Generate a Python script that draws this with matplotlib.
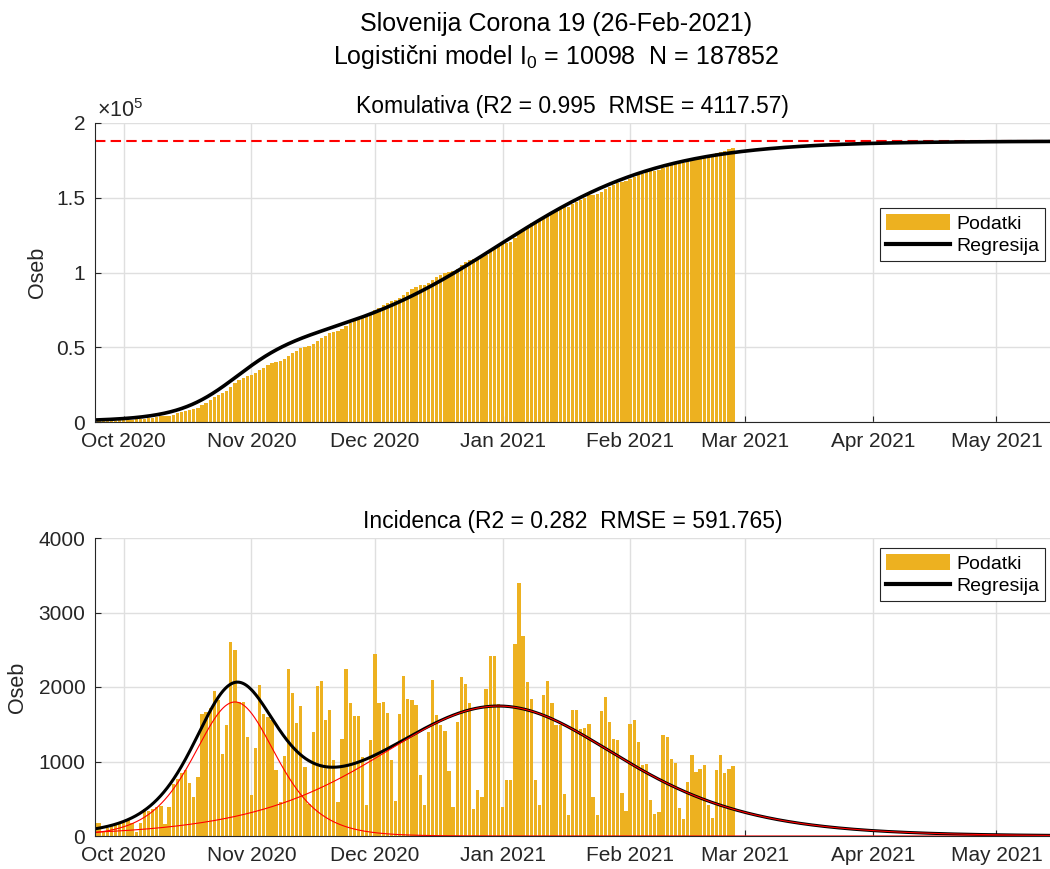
import numpy as np
import matplotlib
matplotlib.use("Agg")
import matplotlib.pyplot as plt
import matplotlib.dates as mdates
from matplotlib.patches import Patch
from matplotlib.lines import Line2D

plt.rcParams.update({
    "font.family": ["Liberation Sans", "DejaVu Sans"],
    "mathtext.fontset": "custom",
    "mathtext.rm": "Liberation Sans",
    "mathtext.it": "Liberation Sans:italic",
    "axes.edgecolor": "#262626",
    "xtick.color": "#262626",
    "ytick.color": "#262626",
})

# daily new cases, 24-Sep-2020 .. 26-Feb-2021
START = "2020-09-24"
daily = [
    180, 180, 60, 110, 150, 180, 190,
    200, 220, 170, 60, 180, 365, 330, 360, 390, 405, 160, 390, 700, 760,
    850, 884, 705, 518, 795, 1643, 1665, 1723, 1946, 1821, 1107, 1487, 2600, 2490,
    1800, 1795, 1330, 553,
    1180, 2030, 1640, 1600, 1560, 890, 462, 1080, 2240, 1920, 1515, 1740, 920, 430,
    1390, 2020, 2075, 1553, 1688, 1025, 463, 1308, 2240, 1784, 1605, 1605, 1065, 418,
    1295, 2440,
    1784, 1795, 1650, 1025, 470, 1632, 2144, 1845, 1820, 1753, 815, 418, 1391, 2093,
    1627, 1493, 1413, 867, 387, 1533, 2133, 2036, 1787, 360, 613, 520, 1978, 2413,
    2413, 1769, 387,
    747, 747, 2573, 3400, 2680, 2067, 1844, 747, 413, 1893, 2080, 1787, 1489, 1489,
    560, 280, 1693, 1693, 1440, 1445, 1510, 522, 281, 1679, 1862, 1527, 1299, 1286,
    576, 335, 1500,
    1554, 1259, 951, 964, 482, 295, 321, 1353, 1326, 1031, 978, 375, 228, 723, 1085,
    857, 897, 951, 415, 241, 884, 1085, 844, 897, 938,
]

# two-wave logistic model
N_TOTAL = 187852
K1, R1, PEAK1 = 48300, 0.149, "2020-10-28"
K2, R2, PEAK2 = N_TOTAL - 48300, 0.050, "2020-12-31"
END = "2021-05-14"

MONTHS = ["2020-10-01", "2020-11-01", "2020-12-01", "2021-01-01",
          "2021-02-01", "2021-03-01", "2021-04-01", "2021-05-01"]
MONTH_LABELS = ["Oct 2020", "Nov 2020", "Dec 2020", "Jan 2021",
                "Feb 2021", "Mar 2021", "Apr 2021", "May 2021"]

BAR = "#EDB120"
GRID = "#DFDFDF"

d0 = mdates.date2num(np.datetime64(START))
x_days = d0 + np.arange(len(daily))
cumul = np.cumsum(daily)

t = np.linspace(d0, mdates.date2num(np.datetime64(END)), 2000)
p1 = mdates.date2num(np.datetime64(PEAK1))
p2 = mdates.date2num(np.datetime64(PEAK2))
e1 = np.exp(-R1 * (t - p1))
e2 = np.exp(-R2 * (t - p2))
cum_model = K1 / (1 + e1) + K2 / (1 + e2)
w1 = K1 * R1 * e1 / (1 + e1) ** 2
w2 = K2 * R2 * e2 / (1 + e2) ** 2

fig = plt.figure(figsize=(10.5, 8.69), dpi=100)
ax1 = fig.add_axes([95 / 1050, 1 - 422 / 869, 955 / 1050, 299 / 869])
ax2 = fig.add_axes([95 / 1050, 1 - 836 / 869, 955 / 1050, 298 / 869])


def style_axes(ax):
    ax.set_xlim(d0, mdates.date2num(np.datetime64(END)))
    ax.set_xticks([mdates.date2num(np.datetime64(m)) for m in MONTHS])
    ax.set_xticklabels(MONTH_LABELS)
    ax.grid(True, color=GRID, linewidth=1)
    ax.set_axisbelow(True)
    for s in ["top", "right"]:
        ax.spines[s].set_visible(False)
    ax.spines["left"].set_linewidth(0.8)
    ax.spines["bottom"].set_linewidth(0.8)
    ax.tick_params(direction="in", length=4, labelsize=15, pad=7)
    ax.set_ylabel("Oseb", fontsize=15.5, color="#262626")


# cumulative
ax1.bar(x_days, cumul, width=0.8, color=BAR, linewidth=0)
ax1.axhline(N_TOTAL, color="#FF0000", linestyle=(0, (5, 2.5)), linewidth=1.5)
ax1.plot(t, cum_model, color="black", linewidth=2.6)
style_axes(ax1)
ax1.set_ylim(0, 2e5)
ax1.set_yticks([0, 0.5e5, 1e5, 1.5e5, 2e5])
ax1.set_yticklabels(["0", "0.5", "1", "1.5", "2"])
ax1.yaxis.set_label_coords(-0.049, 0.5)
ax1.text(0.002, 1.002, "×10$^{5}$", transform=ax1.transAxes, ha="left", va="bottom",
         fontsize=15.5, color="#262626")
ax1.set_title("Komulativa (R2 = 0.995  RMSE = 4117.57)", fontsize=16.5, pad=7)

# incidence
ax2.bar(x_days, daily, width=0.8, color=BAR, linewidth=0)
ax2.plot(t, w1 + w2, color="black", linewidth=2.2)
ax2.plot(t, w1, color="#FF0000", linewidth=0.8)
ax2.plot(t, w2, color="#FF0000", linewidth=0.8)
style_axes(ax2)
ax2.set_ylim(0, 4000)
ax2.set_yticks([0, 1000, 2000, 3000, 4000])
ax2.yaxis.set_label_coords(-0.070, 0.5)
ax2.set_title("Incidenca (R2 = 0.282  RMSE = 591.765)", fontsize=16.5, pad=7)

handles = [Patch(facecolor=BAR, edgecolor="none"), Line2D([], [], color="black", linewidth=3)]
for ax, ytop in [(ax1, (422 - 208) / 299), (ax2, (836 - 548) / 298)]:
    leg = ax.legend(handles, ["Podatki", "Regresija"], loc="upper right",
                    bbox_to_anchor=(0.995, ytop), borderaxespad=0, fontsize=14,
                    handlelength=3.3, handleheight=0.9, handletextpad=0.3,
                    borderpad=0.3, labelspacing=0.2, fancybox=False, framealpha=1)
    leg.get_frame().set_edgecolor("#262626")
    leg.get_frame().set_linewidth(0.8)

fig.text(556 / 1050, 1 - 24 / 869, "Slovenija Corona 19 (26-Feb-2021)",
         ha="center", va="center", fontsize=18)
fig.text(556 / 1050, 1 - 57 / 869, "Logistični model I$_{0}$ = 10098  N = 187852",
         ha="center", va="center", fontsize=18)

fig.savefig("out.png", dpi=100)
